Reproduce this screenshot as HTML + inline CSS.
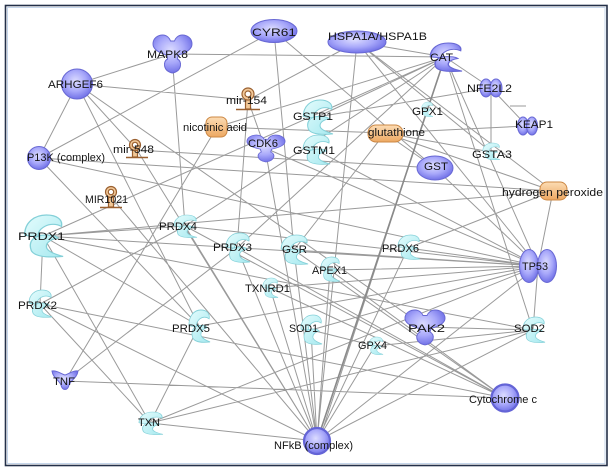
<!DOCTYPE html>
<html><head><meta charset="utf-8"><style>
html,body{margin:0;padding:0;background:#fff;}
svg{display:block;}
text{font-family:"Liberation Sans",Arial,sans-serif;font-size:11px;fill:#141414;}
</style></head><body>
<svg width="613" height="473" viewBox="0 0 613 473" xmlns="http://www.w3.org/2000/svg">
<defs>
<radialGradient id="pg" cx="45%" cy="40%" r="62%"><stop offset="0" stop-color="#dcdcff"/><stop offset="0.55" stop-color="#a8a8fa"/><stop offset="1" stop-color="#6e6ee6"/></radialGradient>
<linearGradient id="cg" x1="0" y1="0" x2="1" y2="1"><stop offset="0" stop-color="#e4fcfd"/><stop offset="1" stop-color="#a6e9ef"/></linearGradient>
<linearGradient id="og" x1="0" y1="0" x2="0" y2="1"><stop offset="0" stop-color="#fcdcb4"/><stop offset="1" stop-color="#eda862"/></linearGradient>
<path id="enz" d="M1,14 C1,5 7,0 14,0 C20,0 24,3 23,8 C20,6 16,6 13,8 C10,10 9,12 9,15 C6,15 3,15 1,14 Z M13,14 C6,14 3,19 5,25 C7,29 14,30 24,29 C18,27 14,25 14,22 C14,19 17,17 21,16 C19,14 16,14 13,14 Z"/>
<path id="kin" d="M0,9 C0,3 5,0 10,0 C14,0 17,3 18,6 L22,6 C23,3 26,0 30,0 C35,0 40,3 40,9 C40,15 33,18 26,20 L25,24 C30,26 30,36 20,38 C10,36 10,26 15,24 L14,20 C7,18 0,15 0,9 Z"/>
</defs>
<rect x="0" y="0" width="613" height="473" fill="#fff"/>
<rect x="5.5" y="5.5" width="601.5" height="460" fill="#fff" stroke="#243048" stroke-width="1.6"/>
<rect x="7.5" y="7.5" width="597.5" height="456" fill="none" stroke="#c6d6ea" stroke-width="1"/>

<path fill="none" stroke="#9a9a9a" stroke-width="1" d="
M77 84L172 54M77 84L39 158M77 84L137 150M77 84L248 100M77 84L425 327M77 84L199 326
M172 54L445 57M172 54L185 226
M39 158L274 31M39 158L199 326M39 158L553 191M39 158L538 266
M274 31L294 250M274 31L435 168
M357 42L445 57M357 42L248 100M357 42L317 441M357 42L553 191M357 42L538 266M357 42L491 152
M445 57L491 88M427 110L319 441M445 57L217 127M445 57L43 236M445 57L185 226M445 57L237 248M445 57L538 266M445 57L533 330M445 57L317 117
M491 88L527 126M491 88L491 152
M385 133L217 127M385 133L527 126M385 133L435 168M385 133L491 152M385 133L553 191M385 133L294 250
M435 168L538 266M553 191L538 266M553 191L43 236M553 191L408 248
M538 266L533 330M538 266L185 226M538 266L43 236M538 266L330 270M538 266L270 288M538 266L199 326M538 266L311 330M538 266L316 150M538 266L265 148M538 266L150 423M538 266L408 248M538 266L317 441M538 266L294 250
M317 441L533 330M317 441L150 423M317 441L40 304M317 441L111 197M317 441L137 150M317 441L185 226M317 441L237 248M317 441L270 288M317 441L294 250M317 441L311 330M317 441L330 270M317 441L375 346M317 441L408 248M317 441L265 148
M217 127L65 381M65 381L237 248M65 381L505 398
M505 398L237 248M505 398L270 288M505 398L185 226M505 398L294 250M505 398L330 270M505 398L40 304
M533 330L425 327M533 330L150 423M533 330L375 346M533 330L43 236M311 330L375 346
M43 236L40 304M43 236L185 226M43 236L199 326M43 236L150 423M40 304L185 226M40 304L150 423M199 326L150 423
M248 100L265 148M248 100L237 248M137 150L435 168M317 117L491 88M510 106L526 106"/>
<path fill="none" stroke="#8a8a8a" stroke-width="1.6" d="M445 57L317 441"/>

<g fill="url(#pg)" stroke="#6868d4" stroke-width="1">
<ellipse cx="77" cy="84" rx="15.5" ry="15"/>
<ellipse cx="274" cy="31" rx="23" ry="11.5"/>
<ellipse cx="357" cy="42" rx="29" ry="11"/>
<ellipse cx="435" cy="168" rx="18" ry="12"/>
<circle cx="39" cy="158" r="11.5"/>
<ellipse cx="486" cy="88" rx="6" ry="9"/>
<ellipse cx="496" cy="88" rx="6" ry="9"/>
<ellipse cx="523" cy="126" rx="5.5" ry="9"/>
<ellipse cx="532" cy="126" rx="5.5" ry="9"/>
<ellipse cx="529" cy="266" rx="9.5" ry="16.5"/>
<ellipse cx="547" cy="266" rx="9.5" ry="16.5"/>
<use href="#kin" transform="translate(153,35) scale(0.975,1)"/>
<use href="#kin" transform="translate(247,135) scale(0.95,0.71)"/>
<use href="#kin" transform="translate(405,310) scale(1,0.92)"/>
<use href="#enz" transform="translate(429,43) scale(1.375,0.97)"/>
<path d="M0,1 C5,0 9,4 13,5 C17,4 21,0 26,1 C25,8 19,10 17,15 C16,21 10,21 9,15 C7,10 1,8 0,1 Z" transform="translate(52,370)"/>
</g>
<g fill="url(#pg)" stroke="#6464d6" stroke-width="2.2">
<circle cx="317" cy="441" r="13"/>
<circle cx="505" cy="398" r="13.5"/>
</g>

<g fill="url(#cg)" stroke="#84d0d8" stroke-width="0.8">
<use href="#enz" transform="translate(421,102) scale(0.5,0.5)"/>
<use href="#enz" transform="translate(482,143) scale(0.75,0.57)"/>
<use href="#enz" transform="translate(302,100) scale(1.29,1.17)"/>
<use href="#enz" transform="translate(302,135) scale(1.17,1)"/>
<use href="#enz" transform="translate(23,215) scale(1.67,1.43)"/>
<use href="#enz" transform="translate(173,215) scale(1,0.77)"/>
<use href="#enz" transform="translate(28,290) scale(1,0.93)"/>
<use href="#enz" transform="translate(225,233) scale(1.04,1)"/>
<use href="#enz" transform="translate(280,235) scale(1.17,1)"/>
<use href="#enz" transform="translate(320,257) scale(0.83,0.83)"/>
<use href="#enz" transform="translate(397,235) scale(0.96,0.83)"/>
<use href="#enz" transform="translate(262,278) scale(0.67,0.67)"/>
<use href="#enz" transform="translate(300,315) scale(0.92,1)"/>
<use href="#enz" transform="translate(368,337) scale(0.63,0.6)"/>
<use href="#enz" transform="translate(188,310) scale(0.92,1.1)"/>
<use href="#enz" transform="translate(522,317) scale(0.96,0.87)"/>
<use href="#enz" transform="translate(138,412) scale(1.04,0.77)"/>
</g>

<g fill="url(#og)" stroke="#cc8844" stroke-width="1">
<rect x="206" y="117" width="21" height="20" rx="6"/>
<rect x="368" y="125" width="35" height="17" rx="8"/>
<rect x="540" y="182" width="27" height="18" rx="7"/>
</g>

<g stroke="#9a6030" stroke-width="1.2" fill="#f2c898">
<rect x="245.5" y="99" width="5" height="10"/>
<circle cx="248" cy="94" r="6"/><circle cx="248" cy="94" r="3" fill="#fff"/>
<rect x="132.5" y="150" width="5" height="7"/>
<circle cx="135" cy="145" r="5.5"/><circle cx="135" cy="145" r="2.7" fill="#fff"/>
<rect x="108.5" y="197" width="5" height="10"/>
<circle cx="111" cy="192" r="5.5"/><circle cx="111" cy="192" r="2.7" fill="#fff"/>
<path fill="none" stroke-width="1.6" d="M236 109.5H260M126 157.5H148M100 207.5H122"/>
</g>

<text x="48" y="88" textLength="55" lengthAdjust="spacingAndGlyphs">ARHGEF6</text>
<text x="147" y="58" textLength="41" lengthAdjust="spacingAndGlyphs">MAPK8</text>
<text x="252" y="36" textLength="44" lengthAdjust="spacingAndGlyphs">CYR61</text>
<text x="328" y="40" textLength="99" lengthAdjust="spacingAndGlyphs">HSPA1A/HSPA1B</text>
<text x="430" y="61" textLength="23" lengthAdjust="spacingAndGlyphs">CAT</text>
<text x="467" y="92" textLength="45" lengthAdjust="spacingAndGlyphs">NFE2L2</text>
<text x="412" y="115" textLength="31" lengthAdjust="spacingAndGlyphs">GPX1</text>
<text x="515" y="128" textLength="38" lengthAdjust="spacingAndGlyphs">KEAP1</text>
<text x="472" y="158" textLength="40" lengthAdjust="spacingAndGlyphs">GSTA3</text>
<text x="368" y="136" textLength="57" lengthAdjust="spacingAndGlyphs">glutathione</text>
<text x="424" y="170" textLength="24" lengthAdjust="spacingAndGlyphs">GST</text>
<text x="293" y="120" textLength="40" lengthAdjust="spacingAndGlyphs">GSTP1</text>
<text x="293" y="154" textLength="42" lengthAdjust="spacingAndGlyphs">GSTM1</text>
<text x="183" y="131" textLength="64" lengthAdjust="spacingAndGlyphs">nicotinic acid</text>
<text x="226" y="104" textLength="41" lengthAdjust="spacingAndGlyphs">mir-154</text>
<text x="248" y="147" textLength="30" lengthAdjust="spacingAndGlyphs">CDK6</text>
<text x="113" y="153" textLength="41" lengthAdjust="spacingAndGlyphs">mir-548</text>
<text x="85" y="203" textLength="43" lengthAdjust="spacingAndGlyphs">MIR1021</text>
<text x="27" y="161" textLength="78" lengthAdjust="spacingAndGlyphs">P13K (complex)</text>
<text x="18" y="240" textLength="47" lengthAdjust="spacingAndGlyphs">PRDX1</text>
<text x="159" y="230" textLength="38" lengthAdjust="spacingAndGlyphs">PRDX4</text>
<text x="18" y="309" textLength="39" lengthAdjust="spacingAndGlyphs">PRDX2</text>
<text x="213" y="251" textLength="39" lengthAdjust="spacingAndGlyphs">PRDX3</text>
<text x="282" y="253" textLength="25" lengthAdjust="spacingAndGlyphs">GSR</text>
<text x="312" y="274" textLength="35" lengthAdjust="spacingAndGlyphs">APEX1</text>
<text x="382" y="252" textLength="37" lengthAdjust="spacingAndGlyphs">PRDX6</text>
<text x="245" y="292" textLength="45" lengthAdjust="spacingAndGlyphs">TXNRD1</text>
<text x="522" y="270" textLength="26" lengthAdjust="spacingAndGlyphs">TP53</text>
<text x="502" y="196" textLength="101" lengthAdjust="spacingAndGlyphs">hydrogen peroxide</text>
<text x="289" y="332" textLength="29" lengthAdjust="spacingAndGlyphs">SOD1</text>
<text x="358" y="349" textLength="29" lengthAdjust="spacingAndGlyphs">GPX4</text>
<text x="172" y="332" textLength="38" lengthAdjust="spacingAndGlyphs">PRDX5</text>
<text x="53" y="385" textLength="22" lengthAdjust="spacingAndGlyphs">TNF</text>
<text x="138" y="426" textLength="22" lengthAdjust="spacingAndGlyphs">TXN</text>
<text x="274" y="449" textLength="79" lengthAdjust="spacingAndGlyphs">NFkB (complex)</text>
<text x="408" y="332" textLength="37" lengthAdjust="spacingAndGlyphs">PAK2</text>
<text x="514" y="332" textLength="31" lengthAdjust="spacingAndGlyphs">SOD2</text>
<text x="469" y="403" textLength="68" lengthAdjust="spacingAndGlyphs">Cytochrome c</text>
</svg>
</body></html>
